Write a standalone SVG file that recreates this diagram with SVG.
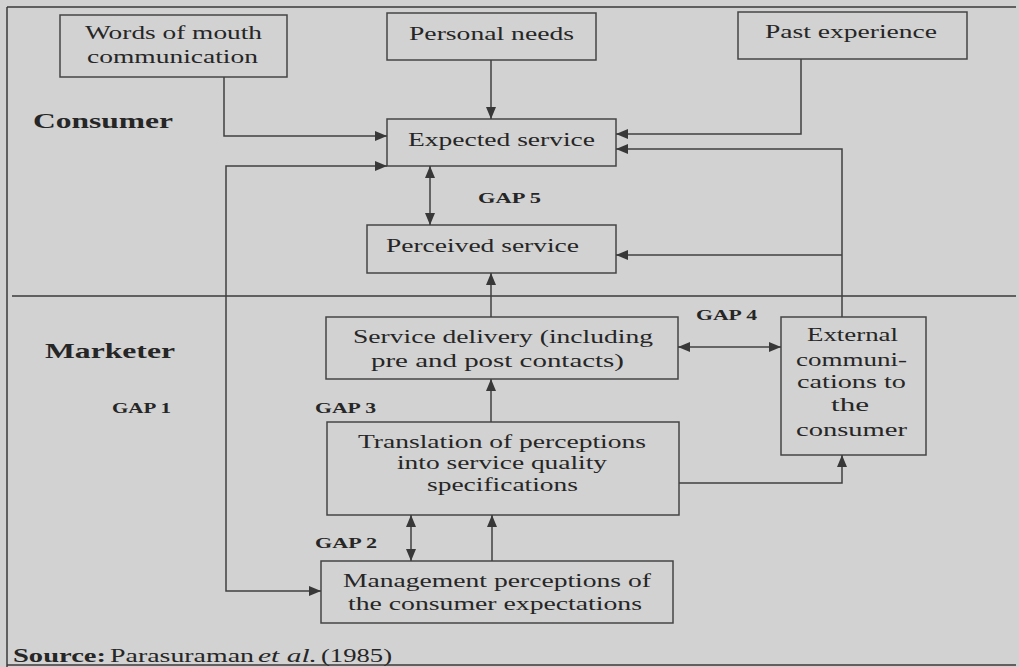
<svg xmlns="http://www.w3.org/2000/svg" width="1019" height="667" viewBox="0 0 1019 667">
  <style>
    .box { fill: none; stroke: #454545; stroke-width: 1.5; }
    .frame { fill: none; stroke: #3a3a3a; stroke-width: 1.5; }
    .conn { fill: none; stroke: #404040; stroke-width: 1.5; }
    text { font-family: "Liberation Serif", "Times New Roman", serif; fill: #262626; }
    .t { font-size: 19px; }
    .h { font-size: 22px; font-weight: bold; }
    .gap { font-size: 14px; font-weight: bold; }
  </style>
  <defs>
    <marker id="arr" viewBox="0 0 12 10" refX="12" refY="5" markerWidth="12" markerHeight="10" markerUnits="userSpaceOnUse" orient="auto-start-reverse">
      <path d="M0,0 L12,5 L0,10 Z" fill="#383838"/>
    </marker>
  </defs>

  <rect x="0" y="0" width="1019" height="667" fill="#d2d2d2"/>

  <!-- frame and consumer / marketer divider -->
  <g id="frame">
    <path class="frame" d="M7,7 H1016" stroke-width="2"/>
    <path class="frame" d="M7,7 V667"/>
    <path class="frame" d="M7,665 H1016" stroke="#9a9a9a" stroke-width="1"/>
    <path class="frame" d="M12,296 H1016"/>
  </g>

  <g id="labels">
    <text class="h" x="33" y="128" textLength="140" lengthAdjust="spacingAndGlyphs">Consumer</text>
    <text class="h" x="45" y="358" textLength="130" lengthAdjust="spacingAndGlyphs">Marketer</text>
    <text class="gap" x="478" y="203" textLength="63" lengthAdjust="spacingAndGlyphs">GAP 5</text>
    <text class="gap" x="112" y="413" textLength="59" lengthAdjust="spacingAndGlyphs">GAP 1</text>
    <text class="gap" x="315" y="413" textLength="61" lengthAdjust="spacingAndGlyphs">GAP 3</text>
    <text class="gap" x="696" y="320" textLength="61" lengthAdjust="spacingAndGlyphs">GAP 4</text>
    <text class="gap" x="315" y="548" textLength="62" lengthAdjust="spacingAndGlyphs">GAP 2</text>
    <text class="t" x="13" y="662" font-weight="bold" textLength="93" lengthAdjust="spacingAndGlyphs">Source:</text>
    <text class="t" x="110" y="662" textLength="144" lengthAdjust="spacingAndGlyphs">Parasuraman</text>
    <text class="t" x="258" y="662" font-style="italic" textLength="59" lengthAdjust="spacingAndGlyphs">et al.</text>
    <text class="t" x="321" y="662" textLength="71" lengthAdjust="spacingAndGlyphs">(1985)</text>
  </g>

  <g id="word-of-mouth">
    <rect class="box" x="60" y="15" width="227" height="62"/>
    <text class="t" x="85" y="39" textLength="177" lengthAdjust="spacingAndGlyphs">Words of mouth</text>
    <text class="t" x="87" y="63" textLength="171" lengthAdjust="spacingAndGlyphs">communication</text>
  </g>

  <g id="personal-needs">
    <rect class="box" x="387" y="13" width="209" height="47"/>
    <text class="t" x="409" y="40" textLength="165" lengthAdjust="spacingAndGlyphs">Personal needs</text>
  </g>

  <g id="past-experience">
    <rect class="box" x="738" y="12" width="229" height="47"/>
    <text class="t" x="765" y="38" textLength="172" lengthAdjust="spacingAndGlyphs">Past experience</text>
  </g>

  <g id="expected-service">
    <rect class="box" x="387" y="119" width="229" height="47"/>
    <text class="t" x="408" y="146" textLength="187" lengthAdjust="spacingAndGlyphs">Expected service</text>
  </g>

  <g id="perceived-service">
    <rect class="box" x="367" y="225" width="249" height="48"/>
    <text class="t" x="386" y="252" textLength="193" lengthAdjust="spacingAndGlyphs">Perceived service</text>
  </g>

  <g id="service-delivery">
    <rect class="box" x="326" y="317" width="352" height="62"/>
    <text class="t" x="353" y="343" textLength="300" lengthAdjust="spacingAndGlyphs">Service delivery (including</text>
    <text class="t" x="371" y="367" textLength="253" lengthAdjust="spacingAndGlyphs">pre and post contacts)</text>
  </g>

  <g id="external-communications">
    <rect class="box" x="781" y="317" width="145" height="138"/>
    <text class="t" x="807" y="341" textLength="91" lengthAdjust="spacingAndGlyphs">External</text>
    <text class="t" x="796" y="366" textLength="111" lengthAdjust="spacingAndGlyphs">communi-</text>
    <text class="t" x="797" y="388" textLength="109" lengthAdjust="spacingAndGlyphs">cations to</text>
    <text class="t" x="831" y="411" textLength="38" lengthAdjust="spacingAndGlyphs">the</text>
    <text class="t" x="796" y="436" textLength="111" lengthAdjust="spacingAndGlyphs">consumer</text>
  </g>

  <g id="translation">
    <rect class="box" x="327" y="422" width="352" height="93"/>
    <text class="t" x="358" y="448" textLength="288" lengthAdjust="spacingAndGlyphs">Translation of perceptions</text>
    <text class="t" x="397" y="469" textLength="210" lengthAdjust="spacingAndGlyphs">into service quality</text>
    <text class="t" x="427" y="491" textLength="151" lengthAdjust="spacingAndGlyphs">specifications</text>
  </g>

  <g id="management-perceptions">
    <rect class="box" x="321" y="561" width="352" height="62"/>
    <text class="t" x="343" y="587" textLength="308" lengthAdjust="spacingAndGlyphs">Management perceptions of</text>
    <text class="t" x="348" y="610" textLength="294" lengthAdjust="spacingAndGlyphs">the consumer expectations</text>
  </g>

  <g id="connectors">
    <path class="conn" d="M224,77 V136 H387" marker-end="url(#arr)"/>
    <path class="conn" d="M491,60 V119" marker-end="url(#arr)"/>
    <path class="conn" d="M801,59 V134 H616" marker-end="url(#arr)"/>
    <path class="conn" d="M842,317 V149 H616" marker-end="url(#arr)"/>
    <path class="conn" d="M842,255 H616" marker-end="url(#arr)"/>
    <path class="conn" d="M321,591 H226 V166 H387" marker-start="url(#arr)" marker-end="url(#arr)"/>
    <path class="conn" d="M430,166 V225" marker-start="url(#arr)" marker-end="url(#arr)"/>
    <path class="conn" d="M491,317 V273" marker-end="url(#arr)"/>
    <path class="conn" d="M491,422 V379" marker-end="url(#arr)"/>
    <path class="conn" d="M678,347 H781" marker-start="url(#arr)" marker-end="url(#arr)"/>
    <path class="conn" d="M679,483 H842 V455" marker-end="url(#arr)"/>
    <path class="conn" d="M411,515 V561" marker-start="url(#arr)" marker-end="url(#arr)"/>
    <path class="conn" d="M492,561 V515" marker-end="url(#arr)"/>
  </g>
</svg>
